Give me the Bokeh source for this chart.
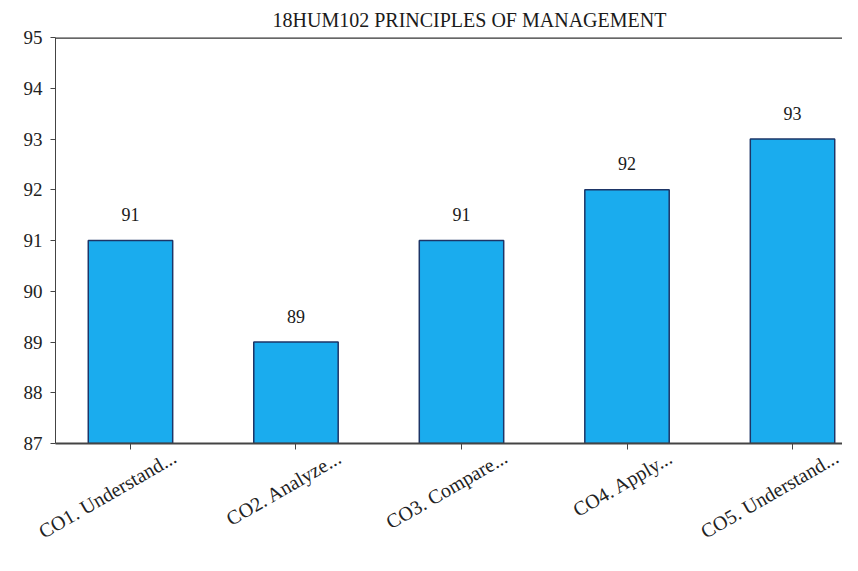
from bokeh.plotting import figure
from bokeh.models import Range1d, FixedTicker, Span, ColumnDataSource
from bokeh.core.properties import value
from bokeh.embed import file_html
from bokeh.resources import INLINE
import math

categories = ["CO1. Understand...", "CO2. Analyze...", "CO3. Compare...", "CO4. Apply...", "CO5. Understand..."]
scores = [91, 89, 91, 92, 93]
y_ticks = [87, 88, 89, 90, 91, 92, 93, 94, 95]
title_text = "18HUM102 PRINCIPLES OF MANAGEMENT"

FONT = "Liberation Serif"
positions = [i + 1 for i in range(len(categories))]
label_shift = 0.265625
label_positions = [pos + label_shift for pos in positions]

src = ColumnDataSource(dict(x=positions, top=scores, label=[str(s) for s in scores]))

p = figure(width=842, height=555, output_backend="svg", toolbar_location=None,
           x_range=Range1d(0.547, 5.302), y_range=Range1d(87, 95),
           min_border_left=55, min_border_top=37, min_border_bottom=95, min_border_right=0)
p.background_fill_color = "white"
p.border_fill_color = "white"
p.outline_line_color = None
p.grid.visible = False

p.title.text = title_text
p.title.align = "left"
p.title.offset = 217
p.title.standoff = 13
p.title.text_font = FONT
p.title.text_font_size = "20px"
p.title.text_font_style = "normal"
p.title.text_color = "#1a1a1a"

p.vbar(x="x", top="top", bottom=87, width=0.51, source=src,
       fill_color="#1aacee", line_color="#1d3567", line_width=1.5)

p.text(x="x", y="top", text="label", source=src, text_align="center",
       text_baseline="alphabetic", y_offset=-26, text_font=value(FONT),
       text_font_size="18px", text_color="#1a1a1a")

p.add_layout(Span(location=95, dimension="width", line_color="#333333", line_width=2.5))

p.yaxis.ticker = FixedTicker(ticks=y_ticks)
p.yaxis.minor_tick_line_color = None
p.yaxis.major_tick_out = 5
p.yaxis.major_tick_in = 0
p.yaxis.axis_line_color = "#444444"
p.yaxis.major_tick_line_color = "#444444"
p.yaxis.major_label_text_font = FONT
p.yaxis.major_label_text_font_size = "19px"
p.yaxis.major_label_text_color = "#222222"
p.yaxis.major_label_standoff = 8

# category ticks drawn as minor ticks, category labels on shifted major ticks
p.xaxis.ticker = FixedTicker(ticks=label_positions, minor_ticks=positions)
p.xaxis.major_label_overrides = {lp: c for lp, c in zip(label_positions, categories)}
p.xaxis.major_tick_line_color = None
p.xaxis.major_tick_out = 0
p.xaxis.major_tick_in = 0
p.xaxis.minor_tick_line_color = "#444444"
p.xaxis.minor_tick_out = 6
p.xaxis.minor_tick_in = 0
p.xaxis.axis_line_color = "#444444"
p.xaxis.axis_line_width = 2
p.xaxis.major_label_orientation = math.radians(30)
p.xaxis.major_label_text_font = FONT
p.xaxis.major_label_text_font_size = "20px"
p.xaxis.major_label_text_color = "#222222"
p.xaxis.major_label_standoff = 6

open("out.html", "w").write(file_html(p, INLINE))
